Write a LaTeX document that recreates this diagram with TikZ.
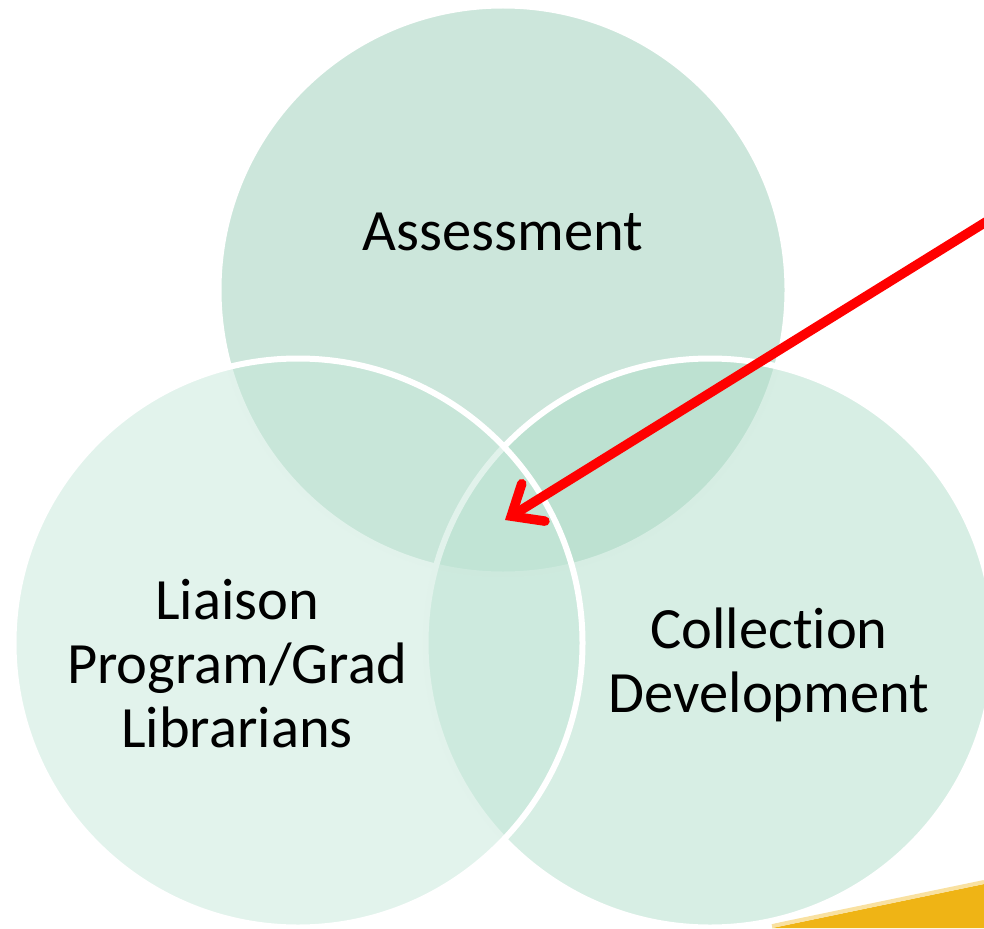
\documentclass[tikz,border=0pt]{standalone}
\usepackage{fontspec}
\setmainfont[RawFeature={-liga;-clig;-calt}]{Carlito}
\usetikzlibrary{arrows.meta}

\definecolor{topset}{RGB}{204,230,219}
\definecolor{rightset}{RGB}{175,221,201}
\definecolor{leftset}{RGB}{197,231,217}
\definecolor{gold}{RGB}{239,180,21}

\begin{document}
\begin{tikzpicture}[x=1pt,y=-1pt,
	set/.style={circle,minimum size=569pt,inner sep=0pt,draw=white,line width=6pt},
	lbl/.style={align=center,font=\fontsize{58.5}{64}\selectfont}]
		\useasboundingbox (0,0) rectangle (984,928);
		\clip (0,0) rectangle (984,928);
		% gold band in the corner
		\fill[gold] (772,928) -- (984,884) -- (984,928) -- cycle;
		\draw[gold!40,line width=4pt] (772,926) -- (984,882);
		% the three sets, top one first
		\node[set,fill=topset] (assess) at (503,290) {};
		\node[set,fill=rightset,fill opacity=0.5] (collect) at (710,643) {};
		\node[set,fill=leftset,fill opacity=0.5] (liaison) at (298,643) {};
		\node[lbl] (assesstxt) at (503,232) {Assessment};
		\node[lbl] (liaisontxt) at (237,664) {Liaison\\Program/Grad\\Librarians};
		\node[lbl] (collecttxt) at (769,665) {Collection\\Development};
		% pointer into the middle
		\coordinate (core) at (505,520);
		\coordinate (pointer) at (1010,207);
		\draw[red,line width=9.5pt,-{Straight Barb[length=26pt,width=44pt,line cap=round]}] (pointer) -- (core);
\end{tikzpicture}
\end{document}
